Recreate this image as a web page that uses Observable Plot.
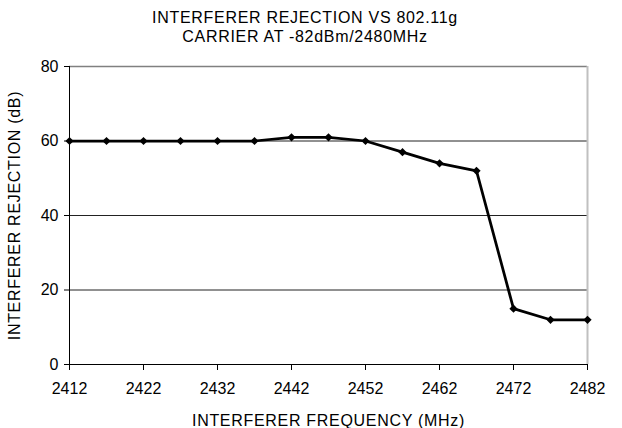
<!DOCTYPE html>
<html><head><meta charset="utf-8">
<script src="https://cdn.jsdelivr.net/npm/d3@7"></script>
<script src="https://cdn.jsdelivr.net/npm/@observablehq/plot@0.6"></script>
<style>
body{margin:0;background:#fff;font-family:"Liberation Sans",Arial,sans-serif;}
#title{width:610px;height:50px;text-align:center;font-size:16px;line-height:18.5px;padding-top:9px;box-sizing:border-box;color:#000;letter-spacing:0.7px;}
g[aria-label="x-axis label"] text, g[aria-label="y-axis label"] text{letter-spacing:0.7px;}
</style></head>
<body>
<div id="title">INTERFERER REJECTION VS 802.11g<br>CARRIER AT -82dBm/2480MHz</div>
<div id="chart"></div>
<script>
const frequency = [2412,2417,2422,2427,2432,2437,2442,2447,2452,2457,2462,2467,2472,2477,2482];
const rejection = [60,60,60,60,60,60,61,61,60,57,54,52,15,12,12];
const xTicks = [2412,2422,2432,2442,2452,2462,2472,2482];
const yTicks = [0,20,40,60,80];
const data = frequency.map((f,i)=>({f, r: rejection[i]}));

const chart = Plot.plot({
  width: 622, height: 378,
  marginLeft: 69, marginRight: 35, marginTop: 16, marginBottom: 64,
  style: {fontFamily: '"Liberation Sans", Arial, sans-serif', fontSize: "16px", color: "#000", background: "#fff"},
  x: {domain: [2412, 2482]},
  y: {domain: [0, 80]},
  marks: [
    Plot.ruleY([20,40,60], {stroke: "#222", strokeWidth: 1}),
    Plot.ruleY([80], {stroke: "#808080", strokeWidth: 1.5}),
    Plot.ruleX([2482], {stroke: "#c0c0c0", strokeWidth: 2}),
    Plot.axisX({ticks: xTicks, tickFormat: d => String(d), tickSize: 6, tickPadding: 12, stroke: "#000",
      label: "INTERFERER FREQUENCY (MHz)", labelAnchor: "center", labelArrow: "none", labelOffset: 61, fontSize: 16}),
    Plot.axisY({ticks: yTicks, tickSize: 5, tickPadding: 6, stroke: "#000",
      label: "INTERFERER REJECTION (dB)", labelAnchor: "center", labelArrow: "none", labelOffset: 61, fontSize: 16}),
    Plot.ruleX([2412], {stroke: "#000", strokeWidth: 1}),
    Plot.ruleY([0], {stroke: "#000", strokeWidth: 1}),
    Plot.line(data, {x: "f", y: "r", stroke: "#000", strokeWidth: 2.75}),
    Plot.dot(data, {x: "f", y: "r", symbol: "diamond2", r: 3.7, fill: "#000", stroke: "none"})
  ]
});
document.getElementById("chart").appendChild(chart);
</script>
</body></html>
